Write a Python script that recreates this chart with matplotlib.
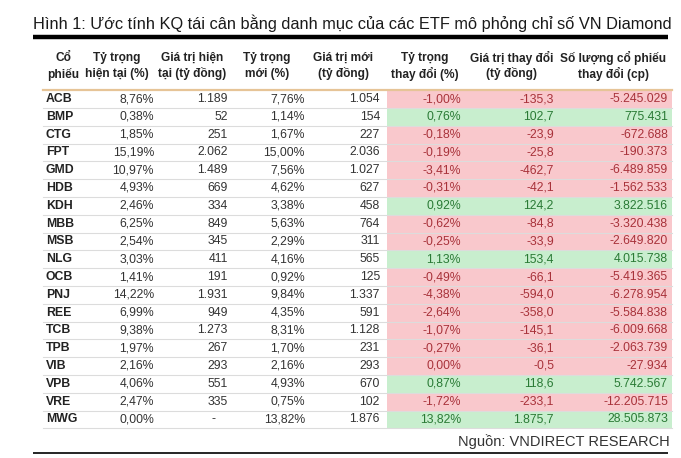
import matplotlib.pyplot as plt
from matplotlib.patches import Rectangle

plt.rcParams['font.family'] = ['Liberation Sans', 'DejaVu Sans']

# Du lieu bang
tickers = ["ACB", "BMP", "CTG", "FPT", "GMD", "HDB", "KDH", "MBB", "MSB", "NLG",
           "OCB", "PNJ", "REE", "TCB", "TPB", "VIB", "VPB", "VRE", "MWG"]
cur_weight = [8.76, 0.38, 1.85, 15.19, 10.97, 4.93, 2.46, 6.25, 2.54, 3.03,
              1.41, 14.22, 6.99, 9.38, 1.97, 2.16, 4.06, 2.47, 0.00]
cur_value = [1189, 52, 251, 2062, 1489, 669, 334, 849, 345, 411,
             191, 1931, 949, 1273, 267, 293, 551, 335, None]
new_weight = [7.76, 1.14, 1.67, 15.00, 7.56, 4.62, 3.38, 5.63, 2.29, 4.16,
              0.92, 9.84, 4.35, 8.31, 1.70, 2.16, 4.93, 0.75, 13.82]
new_value = [1054, 154, 227, 2036, 1027, 627, 458, 764, 311, 565,
             125, 1337, 591, 1128, 231, 293, 670, 102, 1876]
chg_weight = [-1.00, 0.76, -0.18, -0.19, -3.41, -0.31, 0.92, -0.62, -0.25, 1.13,
              -0.49, -4.38, -2.64, -1.07, -0.27, 0.00, 0.87, -1.72, 13.82]
chg_value = [-135.3, 102.7, -23.9, -25.8, -462.7, -42.1, 124.2, -84.8, -33.9, 153.4,
             -66.1, -594.0, -358.0, -145.1, -36.1, -0.5, 118.6, -233.1, 1875.7]
chg_shares = [-5245029, 775431, -672688, -190373, -6489859, -1562533, 3822516,
              -3320438, -2649820, 4015738, -5419365, -6278954, -5584838, -6009668,
              -2063739, -27934, 5742567, -12205715, 28505873]

headers = [("Cổ", "phiếu"), ("Tỷ trọng", "hiện tại (%)"), ("Giá trị hiện", "tại (tỷ đồng)"),
           ("Tỷ trọng", "mới (%)"), ("Giá trị mới", "(tỷ đồng)"), ("Tỷ trọng", "thay đổi (%)"),
           ("Giá trị thay đổi", "(tỷ đồng)"), ("Số lượng cổ phiếu", "thay đổi (cp)")]
title = "Hình 1: Ước tính KQ tái cân bằng danh mục của các ETF mô phỏng chỉ số VN Diamond"
source = "Nguồn: VNDIRECT RESEARCH"


def vn_int(v):
    s = f"{abs(v):,}".replace(",", ".")
    return ("-" if v < 0 else "") + s


def vn_dec(v, nd):
    s = f"{abs(v):,.{nd}f}".replace(",", "X").replace(".", ",").replace("X", ".")
    return ("-" if v < 0 else "") + s


fig = plt.figure(figsize=(6.81, 4.58), dpi=100)
ax = fig.add_axes([0, 0, 1, 1])
ax.set_xlim(0, 681)
ax.set_ylim(458, 0)
ax.axis("off")

# tieu de
ax.text(33, 23, title, fontsize=11.75, color="#1a1a1a", va="center", ha="left",
        family=['Liberation Sans Narrow', 'Liberation Sans', 'DejaVu Sans'])
ax.plot([33, 668], [37, 37], color="black", lw=3.2, solid_capstyle="butt")

# header
fs = 8.8
hdr_x = [63, 117, 192, 267, 343, 425, 512, 613]
for x, (l1, l2) in zip(hdr_x, headers):
    ax.text(x, 58, l1, fontsize=8.6, fontweight="bold", ha="center", va="center", color="#222222")
    ax.text(x, 74, l2, fontsize=8.6, fontweight="bold", ha="center", va="center", color="#222222")

row0, rh = 99, 17.8
pink, green = "#f9c8cc", "#c8eece"
red_txt, green_txt = "#a8323a", "#2a7a35"

for i, t in enumerate(tickers):
    y = row0 + i * rh
    up = chg_shares[i] > 0
    ax.add_patch(Rectangle((387, y - rh / 2), 285, rh, color=green if up else pink, lw=0))
    tc = green_txt if up else red_txt
    ax.text(46, y, t, fontsize=fs, fontweight="bold", ha="left", va="center", color="#222222")
    ax.text(154, y, vn_dec(cur_weight[i], 2) + "%", fontsize=fs, ha="right", va="center", color="#333333")
    if cur_value[i] is None:
        ax.text(213, y, "-", fontsize=fs, ha="center", va="center", color="#333333")
    else:
        ax.text(228, y, vn_int(cur_value[i]), fontsize=fs, ha="right", va="center", color="#333333")
    ax.text(305, y, vn_dec(new_weight[i], 2) + "%", fontsize=fs, ha="right", va="center", color="#333333")
    ax.text(380, y, vn_int(new_value[i]), fontsize=fs, ha="right", va="center", color="#333333")
    ax.text(461, y, vn_dec(chg_weight[i], 2) + "%", fontsize=fs, ha="right", va="center", color=tc)
    ax.text(554, y, vn_dec(chg_value[i], 1), fontsize=fs, ha="right", va="center", color=tc)
    ax.text(668, y, vn_int(chg_shares[i]), fontsize=fs, ha="right", va="center", color=tc)
    ax.plot([43, 672], [y + rh / 2, y + rh / 2], color="#dcdcdc", lw=0.8)

ax.plot([43, 672], [row0 - rh / 2, row0 - rh / 2], color="#e6c497", lw=1.6)

ax.text(670, 442, source, fontsize=10.5, ha="right", va="center", color="#333333")
ax.plot([33, 668], [453, 453], color="black", lw=1.2, solid_capstyle="butt")

fig.savefig("out.png", dpi=100)
